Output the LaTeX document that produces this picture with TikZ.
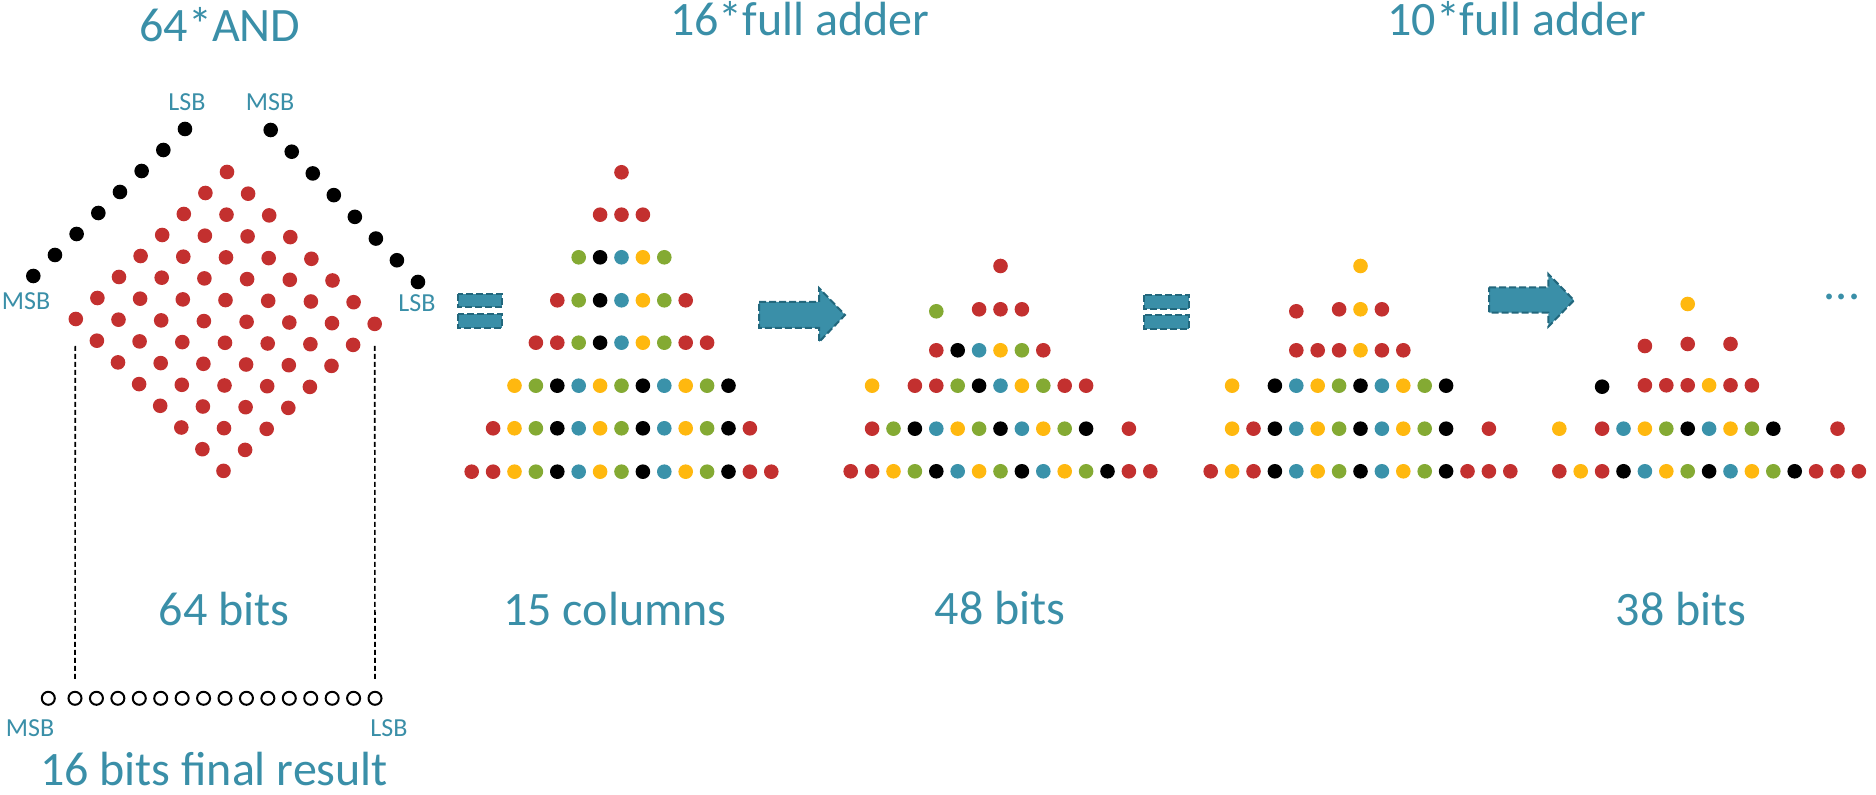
\documentclass[tikz,border=0pt]{standalone}
\usepackage{fontspec}
\setmainfont{Carlito}

\definecolor{dR}{HTML}{C3302F}
\definecolor{dY}{HTML}{FFB80F}
\definecolor{dG}{HTML}{84AA33}
\definecolor{dB}{HTML}{3A92AA}
\definecolor{dK}{HTML}{000000}
\definecolor{labteal}{HTML}{3A8FA8}
\definecolor{edgeteal}{HTML}{22677C}

\tikzset{
  heading/.style={text=labteal, font=\fontsize{24}{28}\selectfont, anchor=base, inner sep=0pt},
  tag/.style={text=labteal, font=\fontsize{13}{15}\selectfont, anchor=base, inner sep=0pt},
  block/.style={fill=labteal, draw=edgeteal, line width=1pt, dash pattern=on 3.5pt off 1.5pt},
  guide/.style={draw=black, line width=0.8pt, dash pattern=on 2.5pt off 1.5pt},
  bitslot/.style={circle, draw=black, line width=1pt, minimum size=6.5pt, inner sep=0pt},
}

% one row of partial-product bits: start x, y, first column, colour list
\newcommand{\dotrow}[4]{%
  \foreach \c [count=\i from 0] in {#4} {
    \fill[fill=d\c] ({#1+(#3+\i)*21.4},#2) circle[radius=3.65pt];
  }%
}

\begin{document}
\begin{tikzpicture}[x=0.5pt, y=-0.5pt]
\fill[white] (0,0) rectangle (1876,795);
\useasboundingbox (0,0) rectangle (1876,795);

% ---------- headings ----------
\node[heading] (hand) at (220,42) {64*AND};
\node[heading] (hfa1) at (800,36) {16*full adder};
\node[heading] (hfa2) at (1517,36) {10*full adder};

% ---------- operands and the 8x8 AND array ----------
\foreach \k in {0,...,7}
  \fill[dK] ({33.3+21.67*\k},{276-21.0*\k}) circle[radius=3.65pt];
\foreach \k in {0,...,7}
  \fill[dK] ({270.7+21.04*\k},{130+21.71*\k}) circle[radius=3.65pt];
\foreach \i in {0,...,7}
  \foreach \j in {0,...,7}
    \fill[dR] ({227-21.6*\i+21.1*\j},{172+21.0*\i+21.7*\j}) circle[radius=3.65pt];

\node[tag] (alsb) at (187,111) {LSB};
\node[tag] (amsb) at (270,111) {MSB};
\node[tag] (bmsb) at (26,310) {MSB};
\node[tag] (blsb) at (417,312) {LSB};

% ---------- result register ----------
\node[bitslot] (b0) at (48.3,698.3) {};
\foreach \k in {1,...,15}
  \node[bitslot] (b\k) at ({75+21.43*(\k-1)},698.3) {};
\coordinate (msbtap) at (75.3,346);
\coordinate (lsbtap) at (374.7,346);
\draw[guide, shorten >=6pt] (msbtap) -- (b1.north);
\draw[guide, shorten >=6pt] (lsbtap) -- (b15.north);

\node[tag] (rmsb) at (30,737) {MSB};
\node[tag] (rlsb) at (389,737) {LSB};
\node[heading] (res) at (214,786) {16 bits final result};
\node[heading] (n64) at (224,626) {64 bits};

% ---------- equal sign 1 ----------
\path[block] (458.3,294) rectangle (502.3,307.5);
\path[block] (458.3,314) rectangle (502.3,328);

% ---------- columns of the product ----------
\def\xa{471.7}
\dotrow{\xa}{172.3}{7}{R}
\dotrow{\xa}{214.7}{6}{R,R,R}
\dotrow{\xa}{257.3}{5}{G,K,B,Y,G}
\dotrow{\xa}{300.3}{4}{R,G,K,B,Y,G,R}
\dotrow{\xa}{342.7}{3}{R,R,G,K,B,Y,G,R,R}
\dotrow{\xa}{385.7}{2}{Y,G,K,B,Y,G,K,B,Y,G,K}
\dotrow{\xa}{428.3}{1}{R,Y,G,K,B,Y,G,K,B,Y,G,K,R}
\dotrow{\xa}{471.7}{0}{R,R,Y,G,K,B,Y,G,K,B,Y,G,K,R,R}
\node[heading] (n15) at (615,626) {15 columns};

% ---------- arrow 1 ----------
\path[block] (759,302) -- (819,302) -- (819,288) -- (845,315) -- (819,342) -- (819,328) -- (759,328) -- cycle;

% ---------- after first adder stage ----------
\def\xb{850.7}
\dotrow{\xb}{266}{7}{R}
\dotrow{\xb}{311.3}{4}{G}
\dotrow{\xb}{309.3}{6}{R,R,R}
\dotrow{\xb}{350.3}{4}{R,K,B,Y,G,R}
\dotrow{\xb}{385.7}{1}{Y}
\dotrow{\xb}{385.7}{3}{R,R,G,K,B,Y,G,R,R}
\dotrow{\xb}{428.7}{1}{R,G,K,B,Y,G,K,B,Y,G,K}
\dotrow{\xb}{428.7}{13}{R}
\dotrow{\xb}{471.3}{0}{R,R,Y,G,K,B,Y,G,K,B,Y,G,K,R,R}
\node[heading] (n48) at (1000,625) {48 bits};

% ---------- equal sign 2 ----------
\path[block] (1144,295) rectangle (1188.7,309.3);
\path[block] (1144,315) rectangle (1188.7,329.3);

% ---------- regrouped 48 bits ----------
\def\xc{1210.7}
\dotrow{\xc}{266}{7}{Y}
\dotrow{\xc}{311.3}{4}{R}
\dotrow{\xc}{309.3}{6}{R,Y,R}
\dotrow{\xc}{350.3}{4}{R,R,R,Y,R,R}
\dotrow{\xc}{385.7}{1}{Y}
\dotrow{\xc}{385.7}{3}{K,B,Y,G,K,B,Y,G,K}
\dotrow{\xc}{428.7}{1}{Y,R,K,B,Y,G,K,B,Y,G,K}
\dotrow{\xc}{428.7}{13}{R}
\dotrow{\xc}{471.3}{0}{R,Y,R,K,B,Y,G,K,B,Y,G,K,R,R,R}

% ---------- arrow 2 ----------
\path[block] (1489,287.3) -- (1548.3,287.3) -- (1548.3,274) -- (1574,300.3) -- (1548.3,326.7) -- (1548.3,312.7) -- (1489,312.7) -- cycle;

% ---------- after second adder stage ----------
\def\xd{1559.3}
\dotrow{\xd}{304}{6}{Y}
\dotrow{\xd}{346}{4}{R}
\dotrow{\xd}{344}{6}{R}
\dotrow{\xd}{344}{8}{R}
\dotrow{\xd}{386.7}{2}{K}
\dotrow{\xd}{385.3}{4}{R,R,R,Y,R,R}
\dotrow{\xd}{428.7}{0}{Y}
\dotrow{\xd}{428.7}{2}{R,B,Y,G,K,B,Y,G,K}
\dotrow{\xd}{428.7}{13}{R}
\dotrow{\xd}{471.3}{0}{R,Y,R,K,B,Y,G,K,B,Y,G,K,R,R,R}
\node[heading] (n38) at (1681,626) {38 bits};
\node[heading] (more) at (1842,300) {...};
\end{tikzpicture}
\end{document}
